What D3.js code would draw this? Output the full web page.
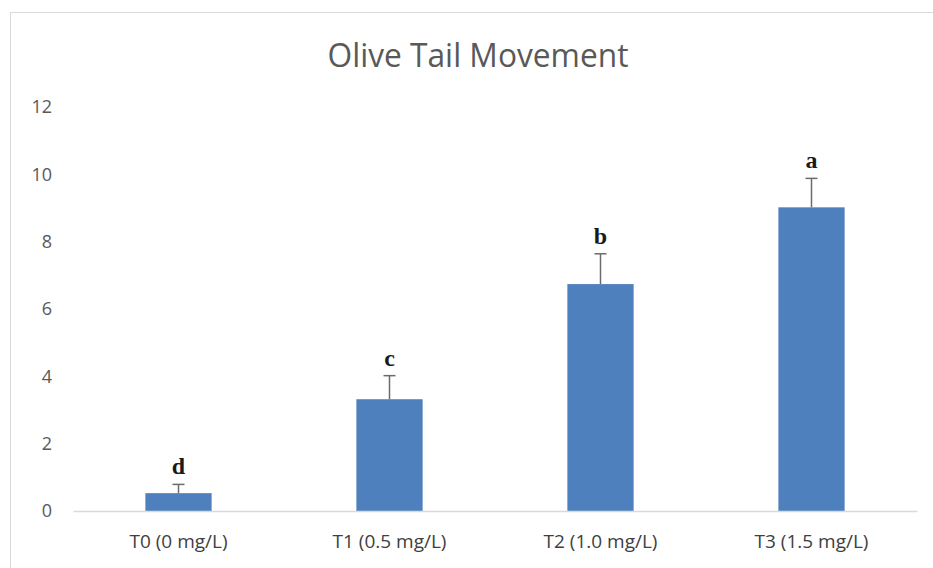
<!DOCTYPE html>
<html>
<head>
<meta charset="utf-8">
<script src="https://cdn.jsdelivr.net/npm/d3@7"></script>
<style>
  body { margin: 0; background: #fff; }
  svg { display: block; }
</style>
</head>
<body>
<div id="graph"></div>
<script>
var categories = ["T0 (0 mg/L)", "T1 (0.5 mg/L)", "T2 (1.0 mg/L)", "T3 (1.5 mg/L)"];
var means = [0.53, 3.32, 6.74, 9.02];
var errors = [0.26, 0.70, 0.90, 0.86];
var letters = ["d", "c", "b", "a"];
var yTicks = [0, 2, 4, 6, 8, 10, 12];

var width = 933;
var height = 568;

var svg = d3.select("#graph").append("svg")
  .attr("width", width)
  .attr("height", height);

// chart frame
svg.append("rect")
  .attr("x", 10.5)
  .attr("y", 12.5)
  .attr("width", width)
  .attr("height", height)
  .attr("fill", "none")
  .attr("stroke", "#d9d9d9");

var x = d3.scaleBand()
  .domain(categories)
  .range([73, 917])
  .paddingInner(0.686)
  .paddingOuter(0.343);

var y = d3.scaleLinear()
  .domain([0, 12])
  .range([511, 107]);

// title
svg.append("text")
  .attr("x", 478)
  .attr("y", 67)
  .attr("text-anchor", "middle")
  .attr("font-family", "'Open Sans', sans-serif")
  .attr("font-size", 33)
  .attr("fill", "#595959")
  .attr("textLength", 301)
  .attr("lengthAdjust", "spacingAndGlyphs")
  .text("Olive Tail Movement");

// y axis labels (no line, no ticks)
var yAxis = svg.append("g")
  .attr("transform", "translate(52, 0)")
  .call(d3.axisLeft(y).tickValues(yTicks).tickSize(0).tickPadding(0));
yAxis.select(".domain").remove();
yAxis.selectAll("text")
  .attr("font-family", "'Open Sans', sans-serif")
  .attr("font-size", 18)
  .attr("fill", "#595959");

// bars
svg.selectAll("rect.bar")
  .data(means)
  .enter().append("rect")
  .attr("class", "bar")
  .attr("x", function(d, i) { return x(categories[i]); })
  .attr("y", function(d) { return y(d); })
  .attr("width", x.bandwidth())
  .attr("height", function(d) { return y(0) - y(d); })
  .attr("fill", "#4e80bd");

// x axis baseline + labels
var xAxis = svg.append("g")
  .attr("transform", "translate(0, " + y(0) + ")")
  .call(d3.axisBottom(x).tickSize(0).tickPadding(24));
xAxis.select(".domain")
  .attr("stroke", "#d9d9d9")
  .attr("stroke-width", 1.5);
xAxis.selectAll("text")
  .attr("font-family", "'Open Sans', sans-serif")
  .attr("font-size", 19)
  .attr("fill", "#404040");

// error bars
var err = svg.append("g")
  .attr("stroke", "#6b6b6b")
  .attr("stroke-width", 1.5);
means.forEach(function(m, i) {
  var cx = x(categories[i]) + x.bandwidth() / 2;
  err.append("line")
    .attr("x1", cx).attr("x2", cx)
    .attr("y1", y(m)).attr("y2", y(m + errors[i]));
  err.append("line")
    .attr("x1", cx - 6).attr("x2", cx + 6)
    .attr("y1", y(m + errors[i])).attr("y2", y(m + errors[i]));
});

// significance letters
svg.selectAll("text.letter")
  .data(letters)
  .enter().append("text")
  .attr("class", "letter")
  .attr("x", function(d, i) { return x(categories[i]) + x.bandwidth() / 2; })
  .attr("y", function(d, i) { return y(means[i] + errors[i]) - 10; })
  .attr("text-anchor", "middle")
  .attr("font-family", "'Liberation Serif', serif")
  .attr("font-size", 24)
  .attr("font-weight", "bold")
  .attr("fill", "#1a1a1a")
  .text(function(d) { return d; });
</script>
</body>
</html>
